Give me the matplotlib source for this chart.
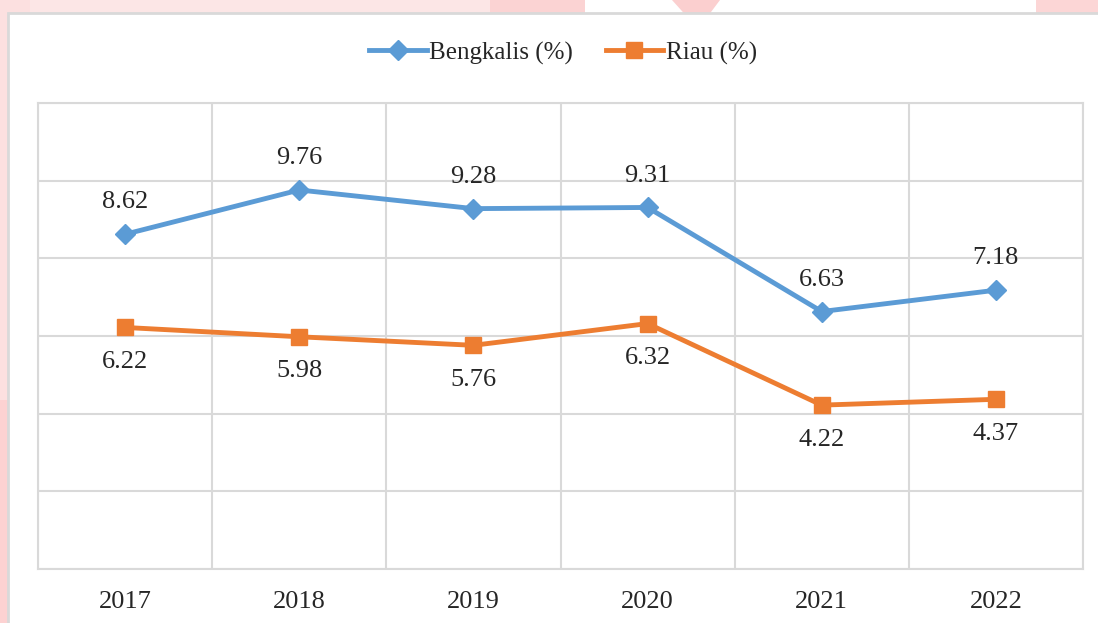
import matplotlib.pyplot as plt
from matplotlib.patches import Rectangle, Polygon

# Data
years = ["2017", "2018", "2019", "2020", "2021", "2022"]
bengkalis = [8.62, 9.76, 9.28, 9.31, 6.63, 7.18]
riau = [6.22, 5.98, 5.76, 6.32, 4.22, 4.37]

blue = "#5B9BD5"
orange = "#ED7D31"
grid_col = "#D9D9D9"
text_col = "#262626"

plt.rcParams["font.family"] = ["Liberation Serif", "DejaVu Serif"]

W, H = 1098, 623
fig = plt.figure(figsize=(W / 100, H / 100), dpi=100, facecolor="white")

# faint pink decoration behind the chart frame (pixel coords -> figure coords)
def px_poly(pts, color):
    fig.patches.append(Polygon([(x / W, 1 - y / H) for x, y in pts], closed=True,
                               transform=fig.transFigure, facecolor=color,
                               edgecolor="none", zorder=0))

px_poly([(0, 0), (490, 0), (490, 20), (0, 20)], "#FCE6E6")
px_poly([(0, 0), (30, 0), (30, 623), (0, 623)], "#FCE0E0")
px_poly([(0, 400), (30, 400), (30, 623), (0, 623)], "#FDD2D2")
px_poly([(490, 0), (585, 0), (585, 20), (490, 20)], "#FBD3D3")
px_poly([(672, 0), (720, 0), (705, 20), (690, 20)], "#FBCFCF")
px_poly([(1036, 0), (1098, 0), (1098, 20), (1036, 20)], "#FCD6D6")

# white chart frame
fig.patches.append(Rectangle((8 / W, -0.1), 1.2, 1.1 - 13 / H, transform=fig.transFigure,
                             facecolor="white", edgecolor=grid_col, linewidth=2, zorder=1))

ax = fig.add_axes([38 / W, 1 - 569 / H, (1083 - 38) / W, (569 - 103) / H])
ax.set_zorder(2)
ax.patch.set_alpha(0)

x = list(range(len(years)))
ax.plot(x, bengkalis, color=blue, lw=3.5, marker="D", markersize=10,
        label="Bengkalis (%)", zorder=3)
ax.plot(x, riau, color=orange, lw=3.5, marker="s", markersize=12,
        label="Riau (%)", zorder=3)

for i, v in enumerate(bengkalis):
    ax.annotate(f"{v:.2f}", (i, v), xytext=(0, 23), textcoords="offset points",
                ha="center", va="center", fontsize=19, color=text_col)
for i, v in enumerate(riau):
    ax.annotate(f"{v:.2f}", (i, v), xytext=(0, -25), textcoords="offset points",
                ha="center", va="center", fontsize=19, color=text_col)

ax.set_xlim(-0.5, 5.5)
ax.set_ylim(0, 12)
ax.set_yticks(range(0, 13, 2))
ax.set_yticklabels([])
ax.set_xticks(x)
ax.set_xticklabels(years, fontsize=19, color=text_col)
ax.set_xticks([i - 0.5 for i in range(len(years) + 1)], minor=True)
ax.tick_params(axis="both", which="both", length=0)
ax.tick_params(axis="x", which="major", pad=16)
ax.grid(True, axis="y", which="major", color=grid_col, lw=1.5)
ax.grid(True, axis="x", which="minor", color=grid_col, lw=1.5)
for s in ax.spines.values():
    s.set_color(grid_col)
    s.set_linewidth(1.5)

leg = fig.legend(loc="center", bbox_to_anchor=(563 / W, 1 - 53 / H), ncol=2, frameon=False,
                 fontsize=18, handlelength=2.3, handletextpad=0.1, columnspacing=1.3)
for t in leg.get_texts():
    t.set_color(text_col)

fig.savefig("out.png", dpi=100, facecolor=fig.get_facecolor())
